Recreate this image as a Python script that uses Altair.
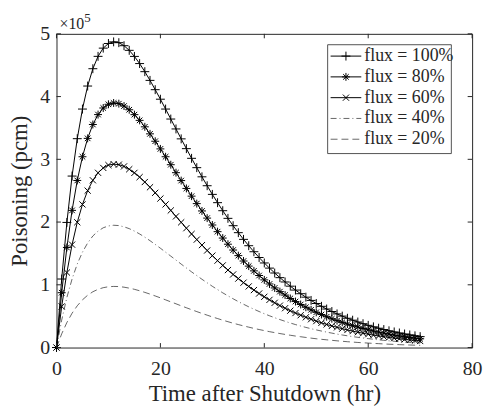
import altair as alt
import pandas as pd

# ---- data (poisoning in units of 1000 pcm, one value per hour 0..70) ----
hours = list(range(71))

flux100 = [0, 109.2, 199.4, 273.3, 332.9, 380.1, 416.8, 444.4, 464.1, 477.2, 484.6,
           487.2, 485.9, 481.1, 473.7, 464.0, 452.6, 439.7, 425.8, 411.0, 395.8,
           380.1, 364.2, 348.4, 332.6, 317.0, 301.6, 286.7, 272.1, 257.9, 244.1,
           230.9, 218.1, 205.9, 194.2, 183.1, 172.4, 162.3, 152.7, 143.5, 134.8,
           126.6, 118.8, 111.4, 104.5, 97.8, 91.6, 85.8, 80.3, 75.1, 70.2,
           65.7, 61.4, 57.4, 53.6, 50.1, 46.7, 43.6, 40.7, 38.0, 35.4,
           33.0, 30.8, 28.7, 26.7, 24.9, 23.2, 21.6, 20.1, 18.7, 17.4]

flux80 = [0, 87.4, 159.5, 218.6, 266.3, 304.1, 333.4, 355.5, 371.3, 381.8, 387.7,
          389.8, 388.7, 384.9, 379.0, 371.2, 362.1, 351.8, 340.6, 328.8, 316.6,
          304.1, 291.4, 278.7, 266.1, 253.6, 241.3, 229.4, 217.7, 206.3, 195.3,
          184.7, 174.5, 164.7, 155.4, 146.5, 137.9, 129.8, 122.2, 114.8, 107.8,
          101.3, 95.0, 89.1, 83.6, 78.2, 73.3, 68.6, 64.2, 60.1, 56.2,
          52.6, 49.1, 45.9, 42.9, 40.1, 37.4, 34.9, 32.6, 30.4, 28.3,
          26.4, 24.6, 23.0, 21.4, 19.9, 18.6, 17.3, 16.1, 15.0, 13.9]

flux60 = [0, 65.5, 119.6, 164.0, 199.7, 228.1, 250.1, 266.6, 278.5, 286.3, 290.8,
          292.3, 291.5, 288.7, 284.2, 278.4, 271.6, 263.8, 255.5, 246.6, 237.5,
          228.1, 218.5, 209.0, 199.6, 190.2, 181.0, 172.0, 163.3, 154.7, 146.5,
          138.5, 130.9, 123.5, 116.5, 109.9, 103.4, 97.4, 91.6, 86.1, 80.9,
          76.0, 71.3, 66.8, 62.7, 58.7, 55.0, 51.5, 48.2, 45.1, 42.1,
          39.4, 36.8, 34.4, 32.2, 30.1, 28.0, 26.2, 24.4, 22.8, 21.2,
          19.8, 18.5, 17.2, 16.0, 14.9, 13.9, 13.0, 12.1, 11.2, 10.4]

flux40 = [0, 43.7, 79.8, 109.3, 133.2, 152.0, 166.7, 177.8, 185.6, 190.9, 193.8,
          194.9, 194.4, 192.4, 189.5, 185.6, 181.0, 175.9, 170.3, 164.4, 158.3,
          152.0, 145.7, 139.4, 133.0, 126.8, 120.6, 114.7, 108.8, 103.2, 97.6,
          92.4, 87.2, 82.4, 77.7, 73.2, 69.0, 64.9, 61.1, 57.4, 53.9,
          50.6, 47.5, 44.6, 41.8, 39.1, 36.6, 34.3, 32.1, 30.0, 28.1,
          26.3, 24.6, 23.0, 21.4, 20.0, 18.7, 17.4, 16.3, 15.2, 14.2,
          13.2, 12.3, 11.5, 10.7, 10.0, 9.3, 8.6, 8.0, 7.5, 7.0]

flux20 = [0, 21.8, 39.9, 54.7, 66.6, 76.0, 83.4, 88.9, 92.8, 95.4, 96.9,
          97.4, 97.2, 96.2, 94.7, 92.8, 90.5, 87.9, 85.2, 82.2, 79.2,
          76.0, 72.8, 69.7, 66.5, 63.4, 60.3, 57.3, 54.4, 51.6, 48.8,
          46.2, 43.6, 41.2, 38.8, 36.6, 34.5, 32.5, 30.5, 28.7, 27.0,
          25.3, 23.8, 22.3, 20.9, 19.6, 18.3, 17.2, 16.1, 15.0, 14.0,
          13.1, 12.3, 11.5, 10.7, 10.0, 9.3, 8.7, 8.1, 7.6, 7.1,
          6.6, 6.2, 5.7, 5.3, 5.0, 4.6, 4.3, 4.0, 3.7, 3.5]

labels = ["flux = 100%", "flux = 80%", "flux = 60%", "flux = 40%", "flux = 20%"]
series_values = [flux100, flux80, flux60, flux40, flux20]

x_ticks = [0, 20, 40, 60, 80]
y_ticks = [0, 100, 200, 300, 400, 500]

# ---- styling ----
W, H = 420, 317
FONT = "Liberation Serif"
INK = "#262626"

PLUS = "M-1,0L1,0M0,-1L0,1"
CROSS = "M-0.78,-0.78L0.78,0.78M-0.78,0.78L0.78,-0.78"
STAR = "M-1,0L1,0M0,-1L0,1M-0.7,-0.7L0.7,0.7M-0.7,0.7L0.7,-0.7"

styles = {
    "flux = 100%": dict(dash=None, width=1.0, shape=PLUS, msize=81),
    "flux = 80%": dict(dash=None, width=1.0, shape=STAR, msize=64),
    "flux = 60%": dict(dash=None, width=1.0, shape=CROSS, msize=64),
    "flux = 40%": dict(dash=[6, 3, 1, 3], width=0.6, shape=None, msize=0),
    "flux = 20%": dict(dash=[7, 4], width=0.6, shape=None, msize=0),
}

rows = []
for lab, vals in zip(labels, series_values):
    for t, v in zip(hours, vals):
        rows.append({"t": t, "v": v, "series": lab})
df = pd.DataFrame(rows)

x_scale = alt.Scale(domain=[0, 80], nice=False, zero=False)
y_scale = alt.Scale(domain=[0, 500], nice=False)

x_axis = alt.Axis(
    values=x_ticks, title="Time after Shutdown (hr)", grid=False, domain=False,
    ticks=False, tickSize=0, labelFont=FONT, labelFontSize=20, labelColor=INK,
    labelBaseline="alphabetic", labelPadding=27, labelFlush=False,
    titleFont=FONT, titleFontSize=23, titleFontWeight="normal", titleColor=INK,
    titleBaseline="alphabetic", titleY=54,
)
y_axis = alt.Axis(
    values=y_ticks, labelExpr="datum.value / 100", title="Poisoning (pcm)",
    grid=False, domain=False, ticks=False, tickSize=0, labelFont=FONT,
    labelFontSize=20, labelColor=INK, labelAlign="right", labelBaseline="middle",
    labelPadding=7, labelFlush=False, titleFont=FONT, titleFontSize=23,
    titleFontWeight="normal", titleColor=INK, titleAngle=270,
    titleBaseline="alphabetic", titleAlign="center", titleX=-30, titleY=H / 2,
)

X = alt.X("t:Q", scale=x_scale, axis=x_axis)
Y = alt.Y("v:Q", scale=y_scale, axis=y_axis)

layers = []
# curves
for lab in labels:
    st = styles[lab]
    kw = dict(color="black", strokeWidth=st["width"], clip=False)
    if st["dash"]:
        kw["strokeDash"] = st["dash"]
    layers.append(
        alt.Chart(df).transform_filter(alt.datum.series == lab)
        .mark_line(**kw).encode(x=X, y=Y)
    )
# markers
for lab in labels:
    st = styles[lab]
    if st["shape"]:
        layers.append(
            alt.Chart(df).transform_filter(alt.datum.series == lab)
            .mark_point(shape=st["shape"], size=st["msize"], filled=False,
                        color="black", strokeWidth=1, opacity=1, clip=False)
            .encode(x=X, y=Y)
        )

# inward ticks (MATLAB box style)
xt = pd.DataFrame({"t": x_ticks})
yt = pd.DataFrame({"v": y_ticks})
TL = 4.5
layers.append(alt.Chart(xt).mark_rule(color=INK, strokeWidth=1).encode(
    x=X, y=alt.value(H), y2=alt.value(H - TL)))
layers.append(alt.Chart(xt).mark_rule(color=INK, strokeWidth=1).encode(
    x=X, y=alt.value(0), y2=alt.value(TL)))
layers.append(alt.Chart(yt).mark_rule(color=INK, strokeWidth=1).encode(
    y=Y, x=alt.value(0), x2=alt.value(TL)))
layers.append(alt.Chart(yt).mark_rule(color=INK, strokeWidth=1).encode(
    y=Y, x=alt.value(W), x2=alt.value(W - TL)))

# exponent label
one = pd.DataFrame({"k": [0]})
layers.append(alt.Chart(one).mark_text(
    font=FONT, fontSize=16, color=INK, align="left", baseline="alphabetic").encode(
    x=alt.value(3), y=alt.value(-5), text=alt.value("×10")))
layers.append(alt.Chart(one).mark_text(
    font=FONT, fontSize=13, color=INK, align="left", baseline="alphabetic").encode(
    x=alt.value(28), y=alt.value(-12), text=alt.value("5")))

# legend box
LX0, LX1, LY0, LY1 = 274, 399, 11, 121
layers.append(alt.Chart(one).mark_rect(
    fill="white", stroke=INK, strokeWidth=0.8).encode(
    x=alt.value(LX0), x2=alt.value(LX1), y=alt.value(LY0), y2=alt.value(LY1)))
row_y = [22.5, 43.5, 64.5, 85.5, 106.5]
for lab, ry in zip(labels, row_y):
    st = styles[lab]
    rkw = dict(color="black", strokeWidth=st["width"])
    if st["dash"]:
        rkw["strokeDash"] = st["dash"]
    layers.append(alt.Chart(one).mark_rule(**rkw).encode(
        x=alt.value(277), x2=alt.value(308), y=alt.value(ry), y2=alt.value(ry)))
    if st["shape"]:
        layers.append(alt.Chart(one).mark_point(
            shape=st["shape"], size=st["msize"], filled=False, color="black",
            strokeWidth=1, opacity=1).encode(x=alt.value(292.5), y=alt.value(ry)))
    layers.append(alt.Chart(one).mark_text(
        font=FONT, fontSize=18, color=INK, align="left", baseline="middle").encode(
        x=alt.value(311), y=alt.value(ry), text=alt.value(lab)))

chart = alt.layer(*layers).properties(
    width=W, height=H, autosize=alt.AutoSizeParams(type="none"),
    padding={"left": 49, "top": 24, "right": 12, "bottom": 60},
    background="white",
).configure_view(stroke=INK, strokeWidth=1)

chart.save("out.html", embed_options={"renderer": "svg", "actions": False})
